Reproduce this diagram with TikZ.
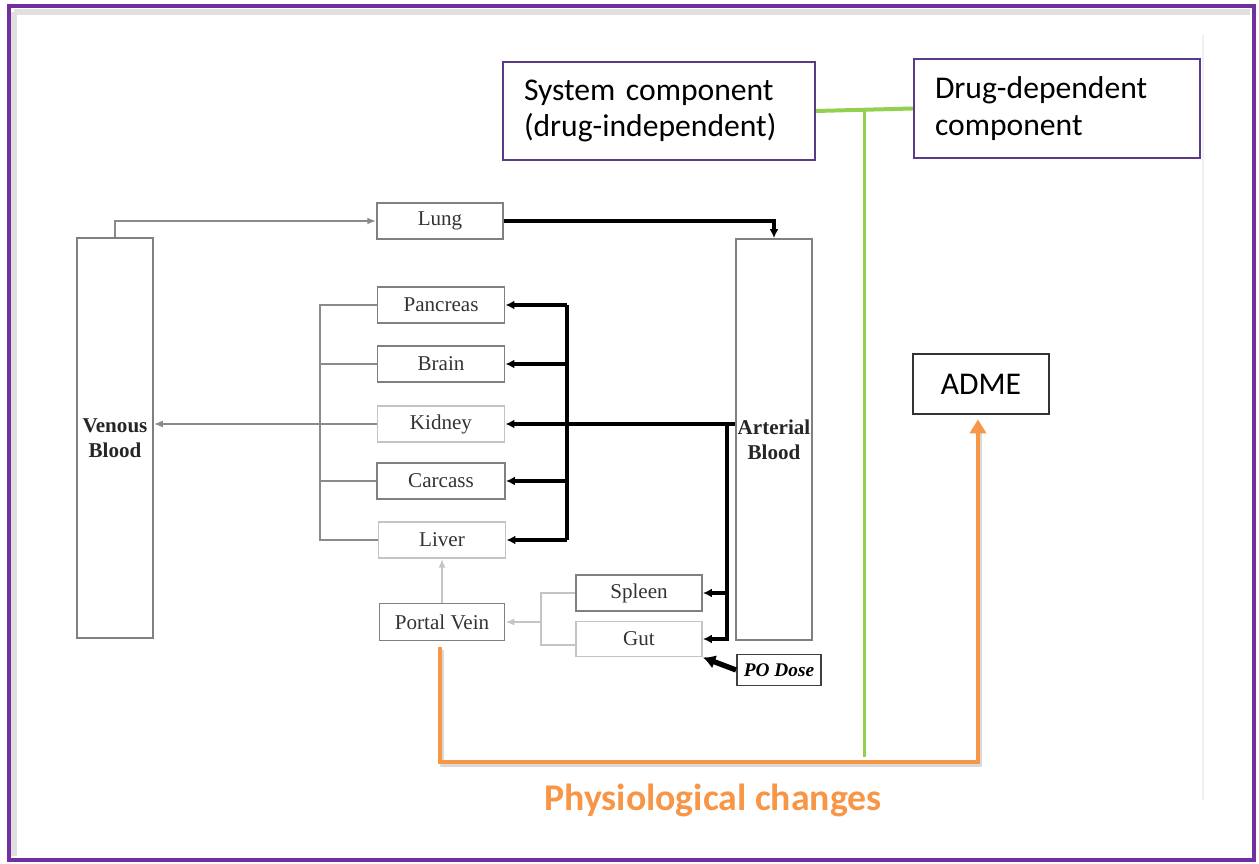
\documentclass[tikz,border=0pt]{standalone}
\usepackage{fontspec}
\setmainfont{Liberation Serif}
\newfontfamily\carl{Carlito}
\usetikzlibrary{arrows.meta,calc}
\definecolor{purp}{HTML}{7030A0}
\definecolor{purpbox}{HTML}{5B3A86}
\definecolor{orng}{HTML}{F79646}
\definecolor{grn}{HTML}{92D050}
\definecolor{boxgray}{HTML}{808080}
\definecolor{boxlight}{HTML}{C4C4C4}
\definecolor{linegray}{HTML}{8A8A8A}
\definecolor{txtgray}{HTML}{333333}
\begin{document}
\begin{tikzpicture}[x=0.02cm,y=-0.02cm,
  organ/.style={draw=boxgray, line width=1.1pt, minimum width=127*0.02cm, minimum height=36*0.02cm, inner sep=0pt, font=\fontsize{12}{14}\selectfont, text=txtgray},
  organlt/.style={organ, draw=boxlight},
  blood/.style={draw=boxgray, line width=1.1pt, minimum width=76*0.02cm, minimum height=400*0.02cm, inner sep=0pt, font=\bfseries\fontsize{12}{14}\selectfont, align=center, text=black!85},
  gline/.style={draw=linegray, line width=1.2pt},
  lline/.style={draw=boxlight, line width=1.2pt},
  bline/.style={draw=black, line width=1.8pt},
  garr/.style={gline, -{Latex[length=5pt,width=4pt]}},
  larr/.style={lline, -{Latex[length=5pt,width=4pt]}},
  barr/.style={bline, -{Latex[length=5pt,width=5pt]}},
  compbox/.style={draw=purpbox, line width=1.3pt, align=left, font=\carl\fontsize{18}{21}\selectfont, inner xsep=0.42cm, inner ysep=0pt},
]
\useasboundingbox (0,0) rectangle (1259,864);
% outer frame with faint inner shadow
\draw[black!12, line width=3pt] (14,12) -- (1250,12);
\draw[black!12, line width=3pt] (14,12) -- (14,856);
\draw[purp, line width=4*0.567pt] (9,6) rectangle (1254,860);
\draw[black!6, line width=1pt] (1203,35) -- (1203,800);

% blood compartments
\node[blood] (venous) at (115,438) {Venous\\Blood};
\node[blood, minimum height=401*0.02cm] (arterial) at (774,439.5) {Arterial\\Blood};

% organs
\node[organ, minimum width=126*0.02cm] (lung) at (440,221) {Lung};
\node[organ] (pancreas) at (441,305) {Pancreas};
\node[organ] (brain) at (441,364) {Brain};
\node[organlt] (kidney) at (441,424) {Kidney};
\node[organ, minimum width=128*0.02cm] (carcass) at (441,481) {Carcass};
\node[organlt] (liver) at (442,540) {Liver};
\node[organ, minimum width=125*0.02cm, minimum height=37*0.02cm] (portal) at (442,622) {Portal Vein};
\node[organ, minimum width=126*0.02cm] (spleen) at (639,593) {Spleen};
\node[organlt, minimum width=126*0.02cm, minimum height=35*0.02cm] (gut) at (639,639) {Gut};
\node[organ, draw=black!75, minimum width=84*0.02cm, minimum height=31*0.02cm, font=\bfseries\itshape\fontsize{11}{13}\selectfont, text=black] (podose) at (779,670) {PO Dose};

% helper columns
\coordinate (colL) at (320,0);
\coordinate (colR) at (567,0);
\coordinate (colA) at (727,0);
\coordinate (colS) at (541,0);
\coordinate (gutstub) at (576,645);

% venous -> lung -> arterial
\draw[garr] (venous.north) |- (lung.west);
\draw[barr] (lung.east) -| (arterial.north);

% venous return collector
\draw[gline] (pancreas.west) -| (colL |- liver.west) -- (liver.west);
\draw[gline] (brain.west) -- (brain.west -| colL);
\draw[gline] (carcass.west) -- (carcass.west -| colL);
\draw[garr] (kidney.west) -- (kidney.west -| venous.east);

% arterial distribution
\draw[bline] (pancreas.east -| colR) -- (liver.east -| colR);
\draw[barr] (pancreas.east -| colR) -- (pancreas.east);
\draw[barr] (brain.east -| colR) -- (brain.east);
\draw[barr] (carcass.east -| colR) -- (carcass.east);
\draw[barr] (liver.east -| colR) -- (liver.east);
\draw[barr] (kidney.east -| arterial.west) -- (kidney.east);
\draw[barr] (kidney.east -| colA) |- (gut.east);
\draw[barr] (spleen.east -| colA) -- (spleen.east);

% splanchnic to portal vein to liver
\draw[lline] (spleen.west) -| (colS |- gutstub) -- (gutstub);
\draw[larr] (colS |- portal.east) -- (portal.east);
\draw[larr] (portal.north) -- (liver.south);

% PO dose
\draw[line width=3pt, -{Latex[length=7pt,width=8pt]}] (podose.west) -- (gut.south east);

% top component boxes
\node[compbox, text width=270*0.02cm, minimum height=98*0.02cm] (sys) at (659,111) {System component\\(drug-independent)};
\node[compbox, text width=244*0.02cm, minimum height=99*0.02cm] (drug) at (1057,108.5) {Drug-dependent\\component};
\node[draw=black!80, line width=1.6pt, minimum width=136*0.02cm, minimum height=60*0.02cm, font=\carl\fontsize{18}{21}\selectfont] (adme) at (981,384) {ADME};

% green connector
\draw[grn, line width=4*0.567pt] (sys.east) -- (drug.west);
\coordinate (gtop) at ($(sys.east)!0.5!(drug.west)$);
\coordinate (gbot) at (865,757);
\draw[grn, line width=4*0.567pt] (gtop) -- (gtop |- gbot);

% orange physiological changes path
\coordinate (ostart) at (440,647);
\coordinate (ocorner) at (978,762);
\draw[black!25, opacity=0.6, line width=5*0.567pt, line join=round] ([shift={(2,3)}]ostart) |- ([shift={(2,3)}]ocorner) -- ([shift={(2,3)}]978,430);
\draw[orng, line width=5*0.567pt, -{Triangle[length=14*0.567pt,width=16*0.567pt]}, shorten >=4*0.567pt] (ostart) |- (ocorner) -- (ocorner |- adme.south);
\node[text=orng, font=\carl\bfseries\fontsize{21.5}{24}\selectfont] (phys) at (713,800) {Physiological changes};
\end{tikzpicture}
\end{document}
